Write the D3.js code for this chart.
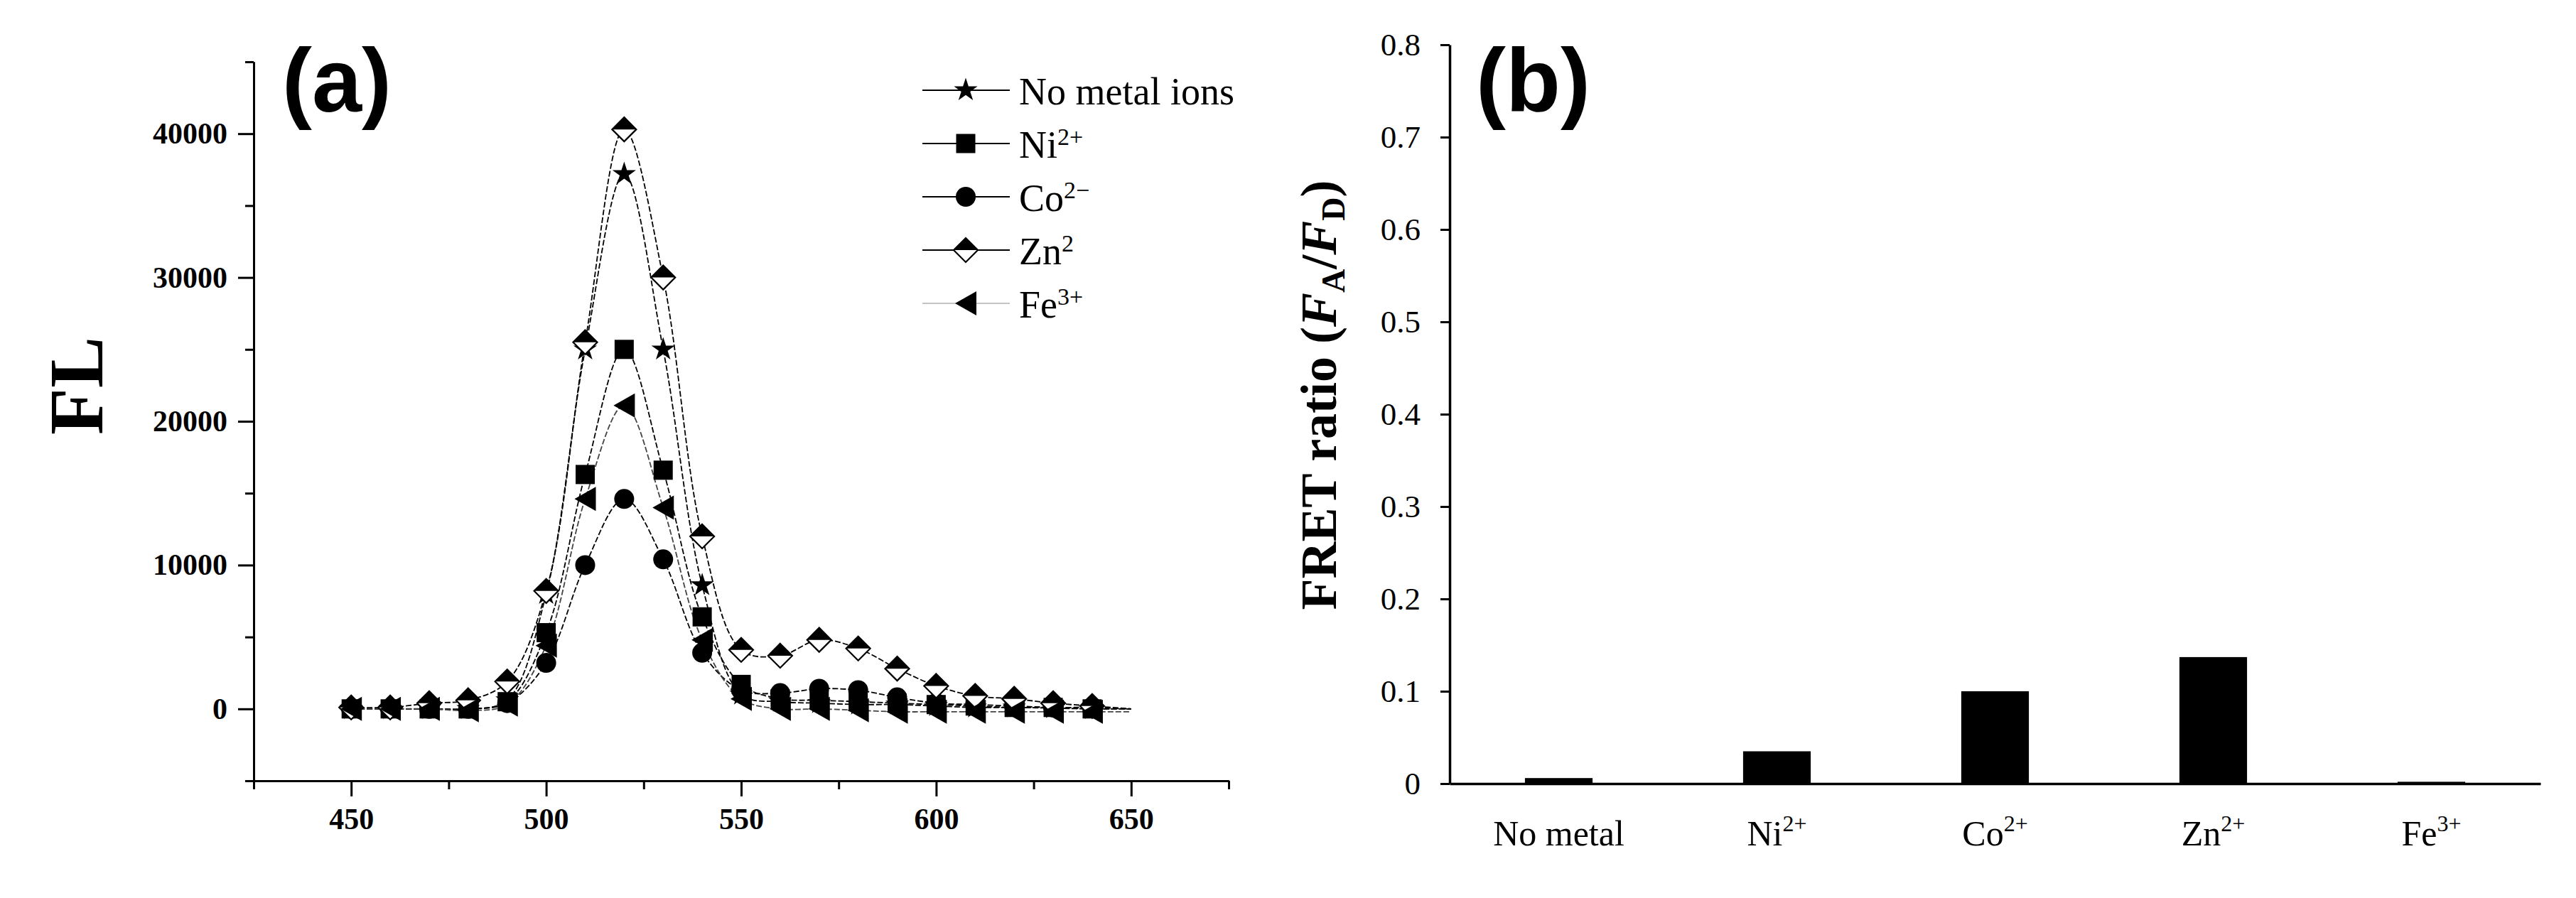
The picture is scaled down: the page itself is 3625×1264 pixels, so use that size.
<!DOCTYPE html>
<html>
<head>
<meta charset="utf-8">
<script src="https://cdn.jsdelivr.net/npm/d3@7"></script>
<style>
  body { margin: 0; background: #fff; }
  text { fill: #000; }
</style>
</head>
<body>
<script>
// ---------- panel (a): fluorescence spectra ----------
const wavelengths = [450,460,470,480,490,500,510,520,530,540,550,560,570,580,590,600,610,620,630,640,650];
const flNoMetal = [0,0,0,0,600,8000,25000,37200,25000,8600,1000,500,400,300,300,200,100,100,50,0,0];
const flNi      = [0,0,0,0,500,5300,16300,25000,16600,6400,1700,700,600,500,400,300,200,100,100,0,0];
const flCo      = [0,0,0,0,400,3200,10000,14600,10400,3900,1300,1100,1400,1300,800,400,300,200,100,100,0];
const flZn      = [100,100,400,600,1900,8200,25500,40300,30000,12000,4100,3700,4800,4200,2800,1600,900,700,400,200,0];
const flFe      = [0,0,0,-100,300,4400,14600,21100,14000,4800,700,0,0,-100,-200,-200,-200,-200,-200,-200,-200];
const lastMarker = 640;   // the fitted line runs on to 650, the symbols stop at 640

const seriesNames = ["No metal ions", "Ni", "Co", "Zn", "Fe"];
const seriesSup   = ["", "2+", "2\u2212", "2", "3+"];
const seriesShape = ["star", "square", "circle", "halfDiamond", "triLeft"];
const seriesData  = [flNoMetal, flNi, flCo, flZn, flFe];

const xTicksA = [450, 500, 550, 600, 650];
const xMinorA = [425, 475, 525, 575, 625, 675];
const yTicksA = [0, 10000, 20000, 30000, 40000];
const yMinorA = [-5000, 5000, 15000, 25000, 35000, 45000];

// ---------- panel (b): FRET ratio ----------
const ions      = ["No metal", "Ni", "Co", "Zn", "Fe"];
const ionSup    = ["", "2+", "2+", "2+", "3+"];
const fretRatio = [0.006, 0.035, 0.100, 0.137, 0.002];
const yTicksB   = [0, 0.1, 0.2, 0.3, 0.4, 0.5, 0.6, 0.7, 0.8];

const SERIF = '"Liberation Serif", "Times New Roman", serif';
const SANS = '"Liberation Sans", Arial, sans-serif';

const W = 3625, H = 1264;
const svg = d3.select("body").append("svg")
    .attr("width", W)
    .attr("height", H)
    .style("background", "#fff")
    .style("font-family", SERIF);

// ===== panel (a) =====
const boxA = {left: 357, right: 1729, top: 87, bottom: 1099};

const x = d3.scaleLinear().domain([425, 675]).range([boxA.left, boxA.right]);
const y = d3.scaleLinear().domain([-5000, 45000]).range([boxA.bottom, boxA.top]);

function styleAxis(g, fontSize, bold) {
  g.select(".domain").attr("stroke", "#000").attr("stroke-width", 3);
  g.selectAll(".tick line").attr("stroke", "#000").attr("stroke-width", 3);
  g.selectAll(".tick text")
    .style("font-family", SERIF)
    .style("font-size", fontSize + "px")
    .style("font-weight", bold ? "bold" : "normal")
    .attr("fill", "#000");
}

// x axis
svg.append("g")
  .attr("transform", `translate(0,${boxA.bottom})`)
  .call(d3.axisBottom(x).tickValues(xTicksA).tickSize(22).tickSizeOuter(0).tickPadding(16))
  .call(g => styleAxis(g, 42, true));
svg.append("g")
  .attr("transform", `translate(0,${boxA.bottom})`)
  .call(d3.axisBottom(x).tickValues(xMinorA).tickSize(12).tickSizeOuter(0).tickFormat(""))
  .call(g => styleAxis(g, 42, true));

// y axis
svg.append("g")
  .attr("transform", `translate(${boxA.left},0)`)
  .call(d3.axisLeft(y).tickValues(yTicksA).tickSize(22).tickSizeOuter(0).tickPadding(15).tickFormat(d3.format("d")))
  .call(g => styleAxis(g, 42, true));
svg.append("g")
  .attr("transform", `translate(${boxA.left},0)`)
  .call(d3.axisLeft(y).tickValues(yMinorA).tickSize(12).tickSizeOuter(0).tickFormat(""))
  .call(g => styleAxis(g, 42, true));

// y title
svg.append("text")
  .attr("transform", `translate(144,543) rotate(-90)`)
  .attr("text-anchor", "middle")
  .style("font-weight", "bold")
  .style("font-size", "108px")
  .text("FL");

// panel letter
svg.append("text")
  .attr("x", 397).attr("y", 157)
  .style("font-family", SANS)
  .style("font-weight", "bold")
  .style("font-size", "126px")
  .text("(a)");

// marker shapes
function drawMarker(g, shape) {
  if (shape === "star") {
    g.append("path").attr("d", d3.symbol(d3.symbolStar, 340)()).attr("fill", "#000");
  } else if (shape === "square") {
    g.append("path").attr("d", d3.symbol(d3.symbolSquare, 27 * 27)()).attr("fill", "#000");
  } else if (shape === "circle") {
    g.append("path").attr("d", d3.symbol(d3.symbolCircle, Math.PI * 14 * 14)()).attr("fill", "#000");
  } else if (shape === "halfDiamond") {
    g.append("path").attr("d", "M0,-17L17,0L0,17L-17,0Z")
      .attr("fill", "#fff").attr("stroke", "#000").attr("stroke-width", 2.2);
    g.append("path").attr("d", "M0,-17L17,0L-17,0Z").attr("fill", "#000");
  } else if (shape === "triLeft") {
    g.append("path").attr("d", "M-15,0L15,-17L15,17Z").attr("fill", "#000");
  }
}

const line = d3.line()
  .x(d => x(d.x))
  .y(d => y(d.y))
  .curve(d3.curveCatmullRom.alpha(0.5));

const plotA = svg.append("g");

seriesData.forEach((vals, i) => {
  const pts = wavelengths.map((w, j) => ({x: w, y: vals[j]}));
  plotA.append("path")
    .datum(pts)
    .attr("d", line)
    .attr("fill", "none")
    .attr("stroke", i === 4 ? "#444" : "#000")
    .attr("stroke-width", 1.8)
    .attr("stroke-dasharray", "8,3");
});

seriesData.forEach((vals, i) => {
  const pts = wavelengths.map((w, j) => ({x: w, y: vals[j]})).filter(d => d.x <= lastMarker);
  plotA.append("g")
    .selectAll("g")
    .data(pts)
    .join("g")
      .attr("transform", d => `translate(${x(d.x)},${y(d.y)})`)
      .each(function () { drawMarker(d3.select(this), seriesShape[i]); });
});

// legend
const legend = svg.append("g");
seriesNames.forEach((name, i) => {
  const ly = 127 + i * 75;
  legend.append("line")
    .attr("x1", 1298).attr("x2", 1421)
    .attr("y1", ly).attr("y2", ly)
    .attr("stroke", i === 4 ? "#c4c4c4" : "#000")
    .attr("stroke-width", 2);
  const m = legend.append("g").attr("transform", `translate(1359,${ly})`);
  drawMarker(m, seriesShape[i]);
  const t = legend.append("text")
    .attr("x", 1434).attr("y", ly + 20)
    .style("font-size", "54px")
    .text(name);
  if (seriesSup[i]) {
    t.append("tspan").style("font-size", "34px").attr("dy", -18).text(seriesSup[i]);
  }
});

// ===== panel (b) =====
const boxB = {left: 2040, right: 3575, top: 63, bottom: 1103};

const xb = d3.scaleBand()
  .domain(ions)
  .range([boxB.left, boxB.right])
  .paddingInner(0.69)
  .paddingOuter(0.345);
const yb = d3.scaleLinear().domain([0, 0.8]).range([boxB.bottom, boxB.top]);

svg.append("g")
  .selectAll("rect")
  .data(ions)
  .join("rect")
    .attr("x", d => xb(d))
    .attr("y", (d, i) => yb(fretRatio[i]))
    .attr("width", xb.bandwidth())
    .attr("height", (d, i) => yb(0) - yb(fretRatio[i]))
    .attr("fill", "#000");

svg.append("g")
  .attr("transform", `translate(0,${boxB.bottom})`)
  .call(d3.axisBottom(xb).tickSize(0).tickSizeOuter(0).tickFormat(""))
  .call(g => g.select(".domain").attr("stroke", "#000").attr("stroke-width", 3.5));

svg.append("g")
  .attr("transform", `translate(${boxB.left},0)`)
  .call(d3.axisLeft(yb).tickValues(yTicksB).tickSize(13).tickSizeOuter(0).tickPadding(28).tickFormat(d3.format("~g")))
  .call(g => styleAxis(g, 45, false))
  .call(g => g.select(".domain").attr("stroke-width", 3.5));

// category labels
ions.forEach((name, i) => {
  const t = svg.append("text")
    .attr("x", xb(name) + xb.bandwidth() / 2)
    .attr("y", 1190)
    .attr("text-anchor", "middle")
    .style("font-size", "50px")
    .text(name);
  if (ionSup[i]) {
    t.append("tspan").style("font-size", "32px").attr("dy", -20).text(ionSup[i]);
  }
});

// y title with italic F and subscripts
const yt = svg.append("text")
  .attr("transform", `translate(1880,556) rotate(-90)`)
  .attr("text-anchor", "middle")
  .style("font-weight", "bold")
  .style("font-size", "72px");
yt.append("tspan").text("FRET ratio (");
yt.append("tspan").style("font-style", "italic").text("F");
yt.append("tspan").style("font-size", "46px").attr("dy", 12).text("A");
yt.append("tspan").attr("dy", -12).text("/");
yt.append("tspan").style("font-style", "italic").text("F");
yt.append("tspan").style("font-size", "46px").attr("dy", 12).text("D");
yt.append("tspan").attr("dy", -12).text(")");

svg.append("text")
  .attr("x", 2077).attr("y", 157)
  .style("font-family", SANS)
  .style("font-weight", "bold")
  .style("font-size", "126px")
  .text("(b)");
</script>
</body>
</html>
